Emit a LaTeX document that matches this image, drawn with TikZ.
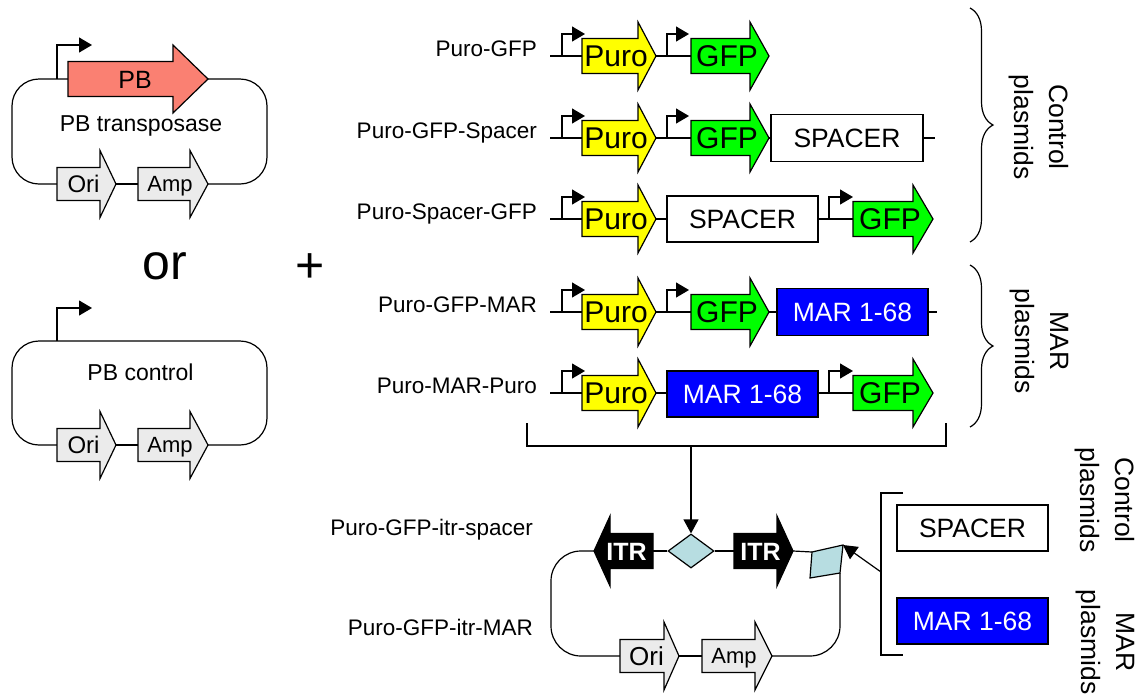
\documentclass[tikz,border=0pt]{standalone}
\usepackage{fontspec}
\setmainfont{Liberation Sans}
\usetikzlibrary{arrows.meta,shapes.geometric,decorations.pathreplacing}

\definecolor{puroyellow}{RGB}{255,255,0}
\definecolor{gfpgreen}{RGB}{0,255,0}
\definecolor{marblue}{RGB}{0,0,255}
\definecolor{pbsalmon}{RGB}{250,128,114}
\definecolor{markergray}{RGB}{235,235,235}
\definecolor{sitecyan}{RGB}{183,221,225}

\newcommand{\fsz}[2]{\fontsize{#1pt}{#2pt}\selectfont}

% gene arrow: name, start x, head x, tip x, y, half body, half head, kind, text
\newcommand{\gene}[9]{%
  \draw[genebody,#8 body] (#2,#5-#6) -- (#3,#5-#6) -- (#3,#5-#7) -- (#4,#5)
    -- (#3,#5+#7) -- (#3,#5+#6) -- (#2,#5+#6) -- cycle;
  \pgfmathsetmacro\geneshift{ifthenelse(#4>#2,-6,6)}%
  \node[genetext,#8 text,minimum width={abs(#4-(#2))*1pt},
        minimum height={2*#7*1pt}] (#1) at ({(#2+#4)/2},#5) {\hspace*{\geneshift pt}#9};
}

% promoter: name, x, y, run, rise
\newcommand{\promoter}[5]{%
  \coordinate (#1) at (#2,#3);
  \draw[line,promtip] (#1) |- ++(#4,-#5);
}

\begin{document}
\begin{tikzpicture}[x=1pt,y=-1pt,
  line/.style={line width=1.2pt,draw=black},
  genebody/.style={line width=1.2pt,draw=black,line join=miter},
  genetext/.style={inner sep=0pt,text depth=0pt},
  puro body/.style={fill=puroyellow},
  puro text/.style={font=\fsz{30}{36},text height=21.5pt},
  gfp body/.style={fill=gfpgreen},
  gfp text/.style={font=\fsz{30}{36},text height=21.5pt},
  pb body/.style={fill=pbsalmon},
  pb text/.style={font=\fsz{25}{30},text height=18pt},
  ori body/.style={fill=markergray},
  ori text/.style={font=\fsz{24}{29},text height=17.2pt},
  orib body/.style={fill=markergray},
  orib text/.style={font=\fsz{26}{31},text height=18.6pt},
  amp body/.style={fill=markergray},
  amp text/.style={font=\fsz{22}{27},text height=15.8pt},
  itr body/.style={fill=black},
  itr text/.style={font=\fsz{25}{30}\bfseries,text=white,text height=18pt},
  promtip/.style={-{Triangle[length=13pt,width=15pt]}},
  sitetip/.style={-{Triangle[length=14pt,width=15pt]}},
  box/.style={draw,line width=1.2pt,inner sep=0pt,font=\fsz{26.5}{32}},
  spacerbox/.style={box,fill=white},
  marbox/.style={box,fill=marblue,text=white},
  rowlabel/.style={anchor=base east,inner sep=0pt,font=\fsz{22.5}{27}},
  plasmidname/.style={anchor=base,inner sep=0pt,font=\fsz{23}{28}},
  grouplabel/.style={rotate=-90,align=center,inner sep=0pt,font=\fsz{26.5}{35}},
  bigsign/.style={inner sep=0pt,font=\fsz{50}{60}},
  site/.style={draw=black,line width=1.2pt,fill=sitecyan},
  bracebar/.style={line,decorate,decoration={brace,amplitude=23pt}}
]
\useasboundingbox (0,0) rectangle (1135,694);

% ---------------- PB transposase helper plasmid ----------------
\gene{pb}{68}{173}{208}{79}{17.5}{34}{pb}{PB}
\gene{oriA}{57}{100}{116}{184}{16.5}{33.5}{ori}{Ori}
\gene{ampA}{138}{190}{208}{184}{16.5}{33.5}{amp}{Amp}
\coordinate (tpA) at (12,79);
\coordinate (tpB) at (267,184);
\draw[line,rounded corners=27pt] (pb.east) -| (tpB) -- (ampA.east);
\draw[line] (ampA.west) -- (oriA.east);
\draw[line,rounded corners=27pt] (oriA.west) -| (tpA) -- (pb.west);
\promoter{prA}{57}{79}{35}{34}
\node[plasmidname] (nameA) at (141,131.5) {PB transposase};

\node[bigsign] (orsign) at (165,266) {or};
\node[bigsign] (plussign) at (310,268) {+};

% ---------------- PB control plasmid ----------------
\gene{oriB}{57}{100}{116}{445}{16.5}{33.5}{ori}{Ori}
\gene{ampB}{138}{190}{208}{445}{16.5}{33.5}{amp}{Amp}
\coordinate (cpA) at (12,341);
\coordinate (cpB) at (267,445);
\draw[line,rounded corners=27pt] (oriB.west) -| (cpA) -| (cpB) -- (ampB.east);
\draw[line] (ampB.west) -- (oriB.east);
\promoter{prB}{57}{341}{35}{33}
\node[plasmidname] (nameB) at (140.5,380) {PB control};

% ---------------- expression constructs ----------------
% Puro-GFP
\node[rowlabel] (l1) at (537,56) {Puro-GFP};
\coordinate (s1) at (550,56);
\gene{puro1}{582}{638}{656}{56}{17.5}{34}{puro}{Puro}
\gene{gfp1}{691}{750}{769}{56}{17.5}{34}{gfp}{GFP}
\draw[line] (s1) -- (puro1.west);
\draw[line] (puro1.east) -- (gfp1.west);
\promoter{pr1a}{562}{56}{23}{22}
\promoter{pr1b}{667}{56}{22}{22}

% Puro-GFP-Spacer
\node[rowlabel] (l2) at (537,138) {Puro-GFP-Spacer};
\coordinate (s2) at (550,138);
\coordinate (e2) at (935,138);
\gene{puro2}{582}{638}{656}{138}{17.5}{34}{puro}{Puro}
\gene{gfp2}{691}{750}{769}{138}{17.5}{34}{gfp}{GFP}
\node[spacerbox,minimum width=152pt,minimum height=47pt] (sp2) at (847,138) {SPACER};
\draw[line] (s2) -- (puro2.west);
\draw[line] (puro2.east) -- (gfp2.west);
\draw[line] (gfp2.east) -- (sp2.west);
\draw[line] (sp2.east) -- (e2);
\promoter{pr2a}{562}{138}{23}{22}
\promoter{pr2b}{667}{138}{22}{22}

% Puro-Spacer-GFP
\node[rowlabel] (l3) at (537,219) {Puro-Spacer-GFP};
\coordinate (s3) at (550,219);
\gene{puro3}{582}{638}{656}{219}{17.5}{34}{puro}{Puro}
\node[spacerbox,minimum width=151pt,minimum height=46pt] (sp3) at (742.5,219) {SPACER};
\gene{gfp3}{853}{913}{933}{219}{17.5}{34}{gfp}{GFP}
\draw[line] (s3) -- (puro3.west);
\draw[line] (puro3.east) -- (sp3.west);
\draw[line] (sp3.east) -- (gfp3.west);
\promoter{pr3a}{562}{219}{23}{22}
\promoter{pr3b}{829}{219}{24}{22}

% Puro-GFP-MAR
\node[rowlabel] (l4) at (537,312) {Puro-GFP-MAR};
\coordinate (s4) at (550,312);
\coordinate (e4) at (937,312);
\gene{puro4}{582}{638}{656}{312}{17.5}{34}{puro}{Puro}
\gene{gfp4}{691}{750}{769}{312}{17.5}{34}{gfp}{GFP}
\node[marbox,minimum width=151pt,minimum height=47pt] (mar4) at (852.5,312) {MAR 1-68};
\draw[line] (s4) -- (puro4.west);
\draw[line] (puro4.east) -- (gfp4.west);
\draw[line] (gfp4.east) -- (mar4.west);
\draw[line] (mar4.east) -- (e4);
\promoter{pr4a}{562}{312}{23}{22}
\promoter{pr4b}{667}{312}{22}{22}

% Puro-MAR-Puro
\node[rowlabel] (l5) at (537,393) {Puro-MAR-Puro};
\coordinate (s5) at (550,393);
\gene{puro5}{582}{638}{656}{393}{17.5}{34}{puro}{Puro}
\node[marbox,minimum width=151pt,minimum height=46pt] (mar5) at (742.5,394) {MAR 1-68};
\gene{gfp5}{853}{913}{933}{393}{17.5}{34}{gfp}{GFP}
\draw[line] (s5) -- (puro5.west);
\draw[line] (puro5.east) -- (mar5.west |- puro5.east);
\draw[line] (mar5.east |- gfp5.west) -- (gfp5.west);
\promoter{pr5a}{562}{393}{23}{22}
\promoter{pr5b}{829}{393}{24}{22}

% group braces and their labels
\coordinate (bc1) at (970,8);
\coordinate (bc2) at (970,242);
\coordinate (bm1) at (970,265);
\coordinate (bm2) at (970,427);
\draw[bracebar] (bc1) -- (bc2);
\draw[bracebar] (bm1) -- (bm2);
\node[grouplabel] (gctl) at (1039,127) {Control\\plasmids};
\node[grouplabel] (gmar) at (1039,341) {MAR\\plasmids};

% collecting bracket
\coordinate (bkL) at (527,423);
\coordinate (bkM) at (691,446);
\coordinate (bkR) at (946,423);
\draw[line] (bkL) |- (bkM) -| (bkR);

% ---------------- transposon donor plasmid ----------------
\node[rowlabel] (l6) at (533,535) {Puro-GFP-itr-spacer};
\node[rowlabel] (l7) at (533,635) {Puro-GFP-itr-MAR};

\gene{itrL}{653}{610}{594}{551}{17.5}{35}{itr}{ITR}
\gene{itrR}{734}{777}{793}{551}{17.5}{35}{itr}{ITR}
\gene{oriC}{620}{664}{679}{656}{16.5}{34}{orib}{Ori}
\gene{ampC}{702}{755}{772}{656}{16.5}{34}{amp}{Amp}
\node[site,diamond,minimum width=46pt,minimum height=34pt,inner sep=0pt] (diam) at (691,551) {};
\coordinate (pgA) at (812,552);
\coordinate (pgB) at (843,545);
\coordinate (pgC) at (840,573);
\coordinate (pgD) at (810,578);
\draw[site,line join=miter] (pgA) -- (pgB) -- (pgC) -- (pgD) -- cycle;
\coordinate (lpc) at (551,656);
\draw[line] (itrL.east) -- (diam.west);
\draw[line] (diam.east) -- (itrR.west);
\draw[line] (itrR.east) -- (pgA);
\draw[line,rounded corners=30pt] (itrL.west) -| (lpc) -- (oriC.west);
\draw[line] (oriC.east) -- (ampC.west);
\draw[line,rounded corners=30pt] (pgC) |- (ampC.east);
\draw[line,sitetip] (bkM) -- (diam.north);

% insert choices
\coordinate (rbT) at (903,493);
\coordinate (rbB) at (903,655);
\coordinate (rbC) at (881,493);
\coordinate (rbA) at (881,572);
\draw[line] (rbT) -- (rbC) |- (rbB);
\draw[line,sitetip] (rbA) -- (pgB);
\node[spacerbox,minimum width=151pt,minimum height=46pt] (spI) at (972.5,528) {SPACER};
\node[marbox,minimum width=151pt,minimum height=46pt] (marI) at (972.5,621) {MAR 1-68};
\node[grouplabel] (gctl2) at (1105,500) {Control\\plasmids};
\node[grouplabel] (gmar2) at (1105,642) {MAR\\plasmids};
\end{tikzpicture}
\end{document}
